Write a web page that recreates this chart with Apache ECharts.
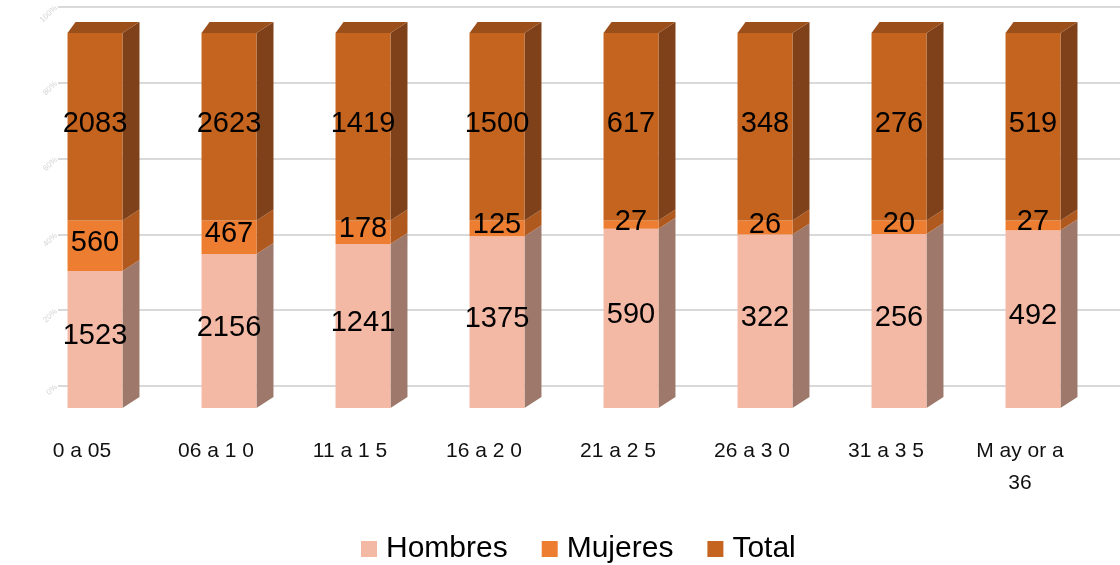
<!DOCTYPE html>
<html><head><meta charset="utf-8">
<script src="https://cdn.jsdelivr.net/npm/echarts@6/dist/echarts.min.js"></script>
<style>html,body{margin:0;padding:0;background:#fff}#c{width:1120px;height:565px}</style>
</head><body><div id="c"></div>
<script>
const categories = ['0 a 05', '06 a 1 0', '11 a 1 5', '16 a 2 0', '21 a 2 5', '26 a 3 0', '31 a 3 5', 'M ay or a\n36'];
const hombres = [1523, 2156, 1241, 1375, 590, 322, 256, 492];
const mujeres = [560, 467, 178, 125, 27, 26, 20, 27];
const total = [2083, 2623, 1419, 1500, 617, 348, 276, 519];
const seriesNames = ['Hombres', 'Mujeres', 'Total'];
const yTickLabels = ['0%', '20%', '40%', '60%', '80%', '100%'];

const FONT = '"Liberation Sans", Arial, sans-serif';
const DX = 17, DXL = 8, DY = 11;
const colors = {
  Hombres: { front: '#F4B9A5', side: '#9E786A', top: '#D9A08C' },
  Mujeres: { front: '#ED7D31', side: '#B0591E', top: '#C86A28' },
  Total:   { front: '#C4641F', side: '#7F4119', top: '#9B501C' }
};
const valueSets = [hombres, mujeres, total];

function segData(idx) {
  return categories.map((c, i) => {
    const sum = hombres[i] + mujeres[i] + total[i];
    let start = 0;
    for (let k = 0; k < idx; k++) start += valueSets[k][i] / sum * 100;
    const end = start + valueSets[idx][i] / sum * 100;
    return [i, start, end, valueSets[idx][i]];
  });
}

function makeRender(name, isTop) {
  return function (params, api) {
    const cat = api.value(0), s = api.value(1), e = api.value(2);
    const pb = api.coord([cat, s]), pt = api.coord([cat, e]);
    const w = api.size([1, 0])[0] * 0.41;
    const x0 = pb[0] - w / 2, x1 = pb[0] + w / 2, yb = pb[1], yt = pt[1];
    const c = colors[name];
    const children = [
      { type: 'polygon', shape: { points: [[x1, yt], [x1 + DX, yt - DY], [x1 + DX, yb - DY], [x1, yb]] }, style: { fill: c.side } },
      { type: 'rect', shape: { x: x0, y: yt, width: w, height: yb - yt }, style: { fill: c.front } }
    ];
    if (isTop) children.push({ type: 'polygon', shape: { points: [[x0, yt], [x0 + DXL, yt - DY], [x1 + DX, yt - DY], [x1, yt]] }, style: { fill: c.top } });
    return { type: 'group', children };
  };
}

const labelData = [];
[0, 1, 2].forEach(idx => segData(idx).forEach(d => labelData.push([d[0], (d[1] + d[2]) / 2, d[3]])));

const series = seriesNames.map((name, idx) => ({
  name, type: 'custom', xAxisIndex: 1, yAxisIndex: 1,
  renderItem: makeRender(name, idx === 2),
  itemStyle: { color: colors[name].front },
  data: segData(idx), z: 2, silent: true
}));
series.push({
  name: 'labels', type: 'custom', xAxisIndex: 1, yAxisIndex: 1, z: 10, silent: true,
  renderItem: function (params, api) {
    const p = api.coord([api.value(0), api.value(1)]);
    return { type: 'text', x: p[0], y: p[1] - 3, style: { text: String(api.value(2)), fill: '#000', font: '29px ' + FONT, textAlign: 'center', textVerticalAlign: 'middle', align: 'center', verticalAlign: 'middle' } };
  },
  data: labelData
});

const chart = echarts.init(document.getElementById('c'));
chart.setOption({
  animation: false,
  backgroundColor: '#fff',
  grid: [
    { left: 58, right: 0, top: 7, bottom: 179, containLabel: false },
    { left: 28, right: 20, top: 33, bottom: 157, containLabel: false }
  ],
  xAxis: [
    { gridIndex: 0, type: 'value', show: false, min: 0, max: 1 },
    { gridIndex: 1, type: 'category', data: categories,
      axisLine: { show: false }, axisTick: { show: false },
      axisLabel: { interval: 0, margin: 27, color: '#111', fontFamily: FONT, fontSize: 21, lineHeight: 32, padding: [0, 26, 0, 0] } }
  ],
  yAxis: [
    { gridIndex: 0, type: 'value', min: 0, max: 100, interval: 20,
      axisLine: { show: false }, axisTick: { show: false },
      splitLine: { lineStyle: { color: '#d9d9d9', width: 2 } },
      axisLabel: { rotate: 44, margin: 2, fontSize: 8, color: '#d4d4d4', fontFamily: FONT,
        formatter: (v) => yTickLabels[Math.round(v / 20)] } },
    { gridIndex: 1, type: 'value', min: 0, max: 100, show: false, splitLine: { show: false } }
  ],
  legend: {
    data: seriesNames, top: 529, left: 356, icon: 'rect', itemWidth: 16, itemHeight: 16, itemGap: 34,
    textStyle: { fontSize: 30, color: '#000', fontFamily: FONT, padding: [0, 0, 0, 4] }
  },
  series
});
</script></body></html>
